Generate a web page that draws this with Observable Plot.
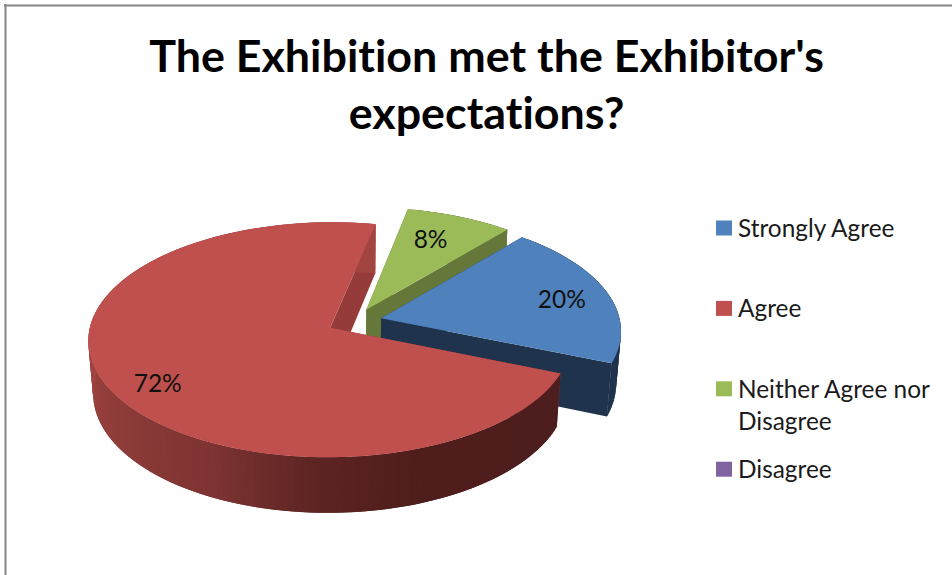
<!DOCTYPE html>
<html>
<head>
<meta charset="utf-8">
<script src="https://cdn.jsdelivr.net/npm/d3@7"></script>
<script src="https://cdn.jsdelivr.net/npm/@observablehq/plot@0.6"></script>
<style>
  html, body { margin: 0; padding: 0; background: #fff; }
  svg { display: block; }
</style>
</head>
<body>
<div id="chart"></div>
<script>
const titleLines = ["The Exhibition met the Exhibitor's", "expectations?"];
const categories = ["Strongly Agree", "Agree", "Neither Agree nor\nDisagree", "Disagree"];
const shares = [20, 72, 8, 0];
const topColors = ["#4f81bd", "#c0504d", "#9bbb59", "#8064a2"];
const sideColors = ["#1f334d", "#953b39", "#66773a", "#4d3b62"];
const paintOrder = [2, 0, 1];

// Perspective disc: clock angles in degrees, radii in disc units.
const firstAngle = 40.2;
const explode = 0.115;
const disc = {cx: 354, cy: 321, rx: 239, ry: 115, persp: 0.1016, depth: 53, shrink: 0.018};
const labelPlacement = [
  {angle: 78, radius: 0.79},
  {angle: 235.9, radius: 0.82},
  {angle: 24, radius: 0.72}
];

// Darkening of the outer wall around the front of the red slice.
const wallShade = d3.scaleLinear()
  .domain([112, 160, 183, 205, 270, 372])
  .range(["#4c1e1d", "#4f1d1c", "#5e2523", "#7d3432", "#a24541", "#a24541"]);

const rad = (deg) => (deg * Math.PI) / 180;

function project(u, v, lower) {
  const w = 1 + disc.persp * v + (lower ? disc.shrink : 0);
  return {
    x: disc.cx + (disc.rx * u) / w,
    y: disc.cy + (-disc.ry * v + (lower ? disc.depth : 0)) / w
  };
}

// Slice extents follow from the shares alone.
let running = firstAngle;
const slices = shares.map((share, i) => {
  const start = running;
  const end = start + (share / 100) * 360;
  running = end;
  const mid = (start + end) / 2;
  return {i, share, start, end, ou: explode * Math.sin(rad(mid)), ov: explode * Math.cos(rad(mid))};
});

const rimPoint = (s, a, r = 1) => [s.ou + r * Math.sin(rad(a)), s.ov + r * Math.cos(rad(a))];

const faces = [];
function addFace(id, fill, pts) {
  for (const p of pts) faces.push({face: id, fill, x: p.x, y: p.y});
}

for (const k of paintOrder) {
  const s = slices[k];
  const side = sideColors[k];
  // Radial cut faces
  for (const a of [s.start, s.end]) {
    const [eu, ev] = rimPoint(s, a);
    addFace(`cut-${k}-${a}`, side, [
      project(s.ou, s.ov, false),
      project(eu, ev, false),
      project(eu, ev, true),
      project(s.ou, s.ov, true)
    ]);
  }
  // Outer wall: narrow facets, each running under the next so no seams show
  const step = 1.5;
  for (let a = s.start; a < s.end; a += step) {
    const b = Math.min(a + step * 2, s.end);
    const [u1, v1] = rimPoint(s, a);
    const [u2, v2] = rimPoint(s, b);
    addFace(`wall-${k}-${a}`, k === 1 ? wallShade(a) : side, [
      project(u1, v1, false),
      project(u2, v2, false),
      project(u2, v2, true),
      project(u1, v1, true)
    ]);
  }
  // Top face
  const top = [project(s.ou, s.ov, false)];
  for (let a = s.start; a < s.end; a += 1) top.push(project(...rimPoint(s, a)));
  top.push(project(...rimPoint(s, s.end)));
  addFace(`top-${k}`, topColors[k], top);
}

const valueLabels = slices.filter((s) => s.share > 0).map((s) => {
  const place = labelPlacement[s.i];
  const p = project(...rimPoint(s, place.angle, place.radius));
  return {x: p.x, y: p.y, text: `${s.share}%`};
});

const legendRows = categories.map((name, i) => ({name, fill: topColors[i], y: 228 + 80.4 * i}));
const titleRows = titleLines.map((text, i) => ({text, y: 57.5 + 57 * i}));

const chart = Plot.plot({
  width: 952,
  height: 575,
  margin: 0,
  style: {fontFamily: "Lato, 'Open Sans', sans-serif", background: "#fff", color: "#000", fontVariantLigatures: "none"},
  x: {domain: [0, 952], range: [0, 952], axis: null},
  y: {domain: [0, 575], range: [0, 575], axis: null},
  color: {type: "identity"},
  marks: [
    Plot.ruleY([5], {x1: 4, x2: 952, stroke: "#868686", strokeWidth: 2}),
    Plot.ruleX([5], {y1: 4, y2: 575, stroke: "#868686", strokeWidth: 2}),
    Plot.line(faces, {x: "x", y: "y", z: "face", fill: "fill", stroke: "none", curve: "linear-closed"}),
    Plot.text(valueLabels, {x: "x", y: "y", text: "text", fontSize: 24.5, fill: "#111", textAnchor: "middle", lineAnchor: "middle"}),
    Plot.text(titleRows, {x: 486, y: "y", text: "text", fontSize: 44.8, fontWeight: 700, fill: "#000", textAnchor: "middle", lineAnchor: "middle"}),
    Plot.rect(legendRows, {
      x1: () => 716, x2: () => 732,
      y1: (d) => d.y - 7.5, y2: (d) => d.y + 7.5,
      fill: "fill"
    }),
    Plot.text(legendRows, {x: 737.5, y: (d) => d.y - 15, text: "name", fontSize: 24.4, lineHeight: 1.34, fill: "#1a1a1a", textAnchor: "start", lineAnchor: "top"})
  ]
});

document.getElementById("chart").append(chart);
</script>
</body>
</html>
